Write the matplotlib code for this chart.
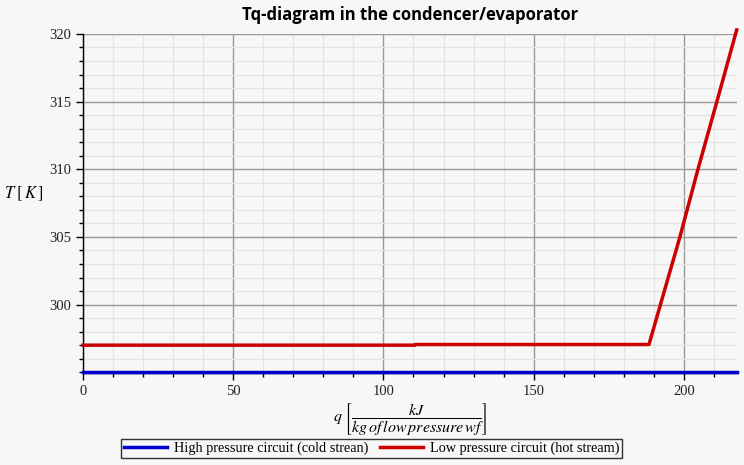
import matplotlib
matplotlib.use("Agg")
import matplotlib.pyplot as plt
from matplotlib.ticker import MultipleLocator

# Data
q_cold = [0.0, 217.7]
T_cold = [295.0, 295.0]

q_hot = [0.0, 110.5, 110.6, 188.4, 192.6, 198.7, 204.7, 211.0, 217.6]
T_hot = [297.0, 297.0, 297.05, 297.05, 300.3, 305.0, 310.0, 315.0, 320.3]

bg = "#f7f7f7"
plt.rcParams["mathtext.fontset"] = "stix"

fig = plt.figure(figsize=(7.44, 4.65), dpi=100, facecolor=bg)
ax = fig.add_axes([0.1116, 0.198, 0.879, 0.729], facecolor=bg)

ax.plot(q_cold, T_cold, color="#0000cc", lw=2.5, clip_on=False, zorder=3,
        label="High pressure circuit (cold strean)")
ax.plot(q_hot, T_hot, color="#cc0000", lw=2.5, clip_on=False, zorder=3,
        label="Low pressure circuit (hot stream)")

ax.set_xlim(0, 217.7)
ax.set_ylim(294.95, 320.0)
ax.xaxis.set_major_locator(MultipleLocator(50))
ax.xaxis.set_minor_locator(MultipleLocator(10))
ax.yaxis.set_major_locator(MultipleLocator(5))
ax.yaxis.set_minor_locator(MultipleLocator(1))
ax.set_yticks([300, 305, 310, 315, 320])

ax.grid(which="major", color="#999999", lw=1.0)
ax.grid(which="minor", color="#e4e4e4", lw=1.0)
ax.set_axisbelow(True)

for s in ["top", "right"]:
    ax.spines[s].set_visible(False)
for s in ["left", "bottom"]:
    ax.spines[s].set_color("black")
    ax.spines[s].set_linewidth(1.0)

ax.tick_params(which="major", length=5, width=1, direction="out", colors="black",
               labelcolor="#222222")
ax.tick_params(which="minor", length=3, width=1, direction="out", colors="black")
for lab in ax.get_xticklabels() + ax.get_yticklabels():
    lab.set_fontfamily("Liberation Serif")
    lab.set_fontsize(10.5)

ax.set_title("Tq-diagram in the condencer/evaporator", fontsize=12,
             fontweight="bold", family="Open Sans", pad=10)
ax.set_ylabel(r"$T\;[\,K\,]$", rotation=0, fontsize=12, labelpad=18)
ax.set_xlabel(r"$q\ \left[\dfrac{kJ}{kg\,of\,low\,pressure\,wf}\right]$",
              fontsize=11.5, labelpad=2)

leg = ax.legend(loc="upper center", bbox_to_anchor=(0.441, -0.195), ncol=2,
                frameon=True, fancybox=False, edgecolor="black", facecolor=bg,
                prop={"family": "Liberation Serif", "size": 10.3},
                handlelength=3.0, borderpad=0.2, columnspacing=0.8,
                handletextpad=0.5, borderaxespad=0)
leg.get_frame().set_linewidth(1.0)

fig.savefig("out.png", dpi=100, facecolor=bg)
